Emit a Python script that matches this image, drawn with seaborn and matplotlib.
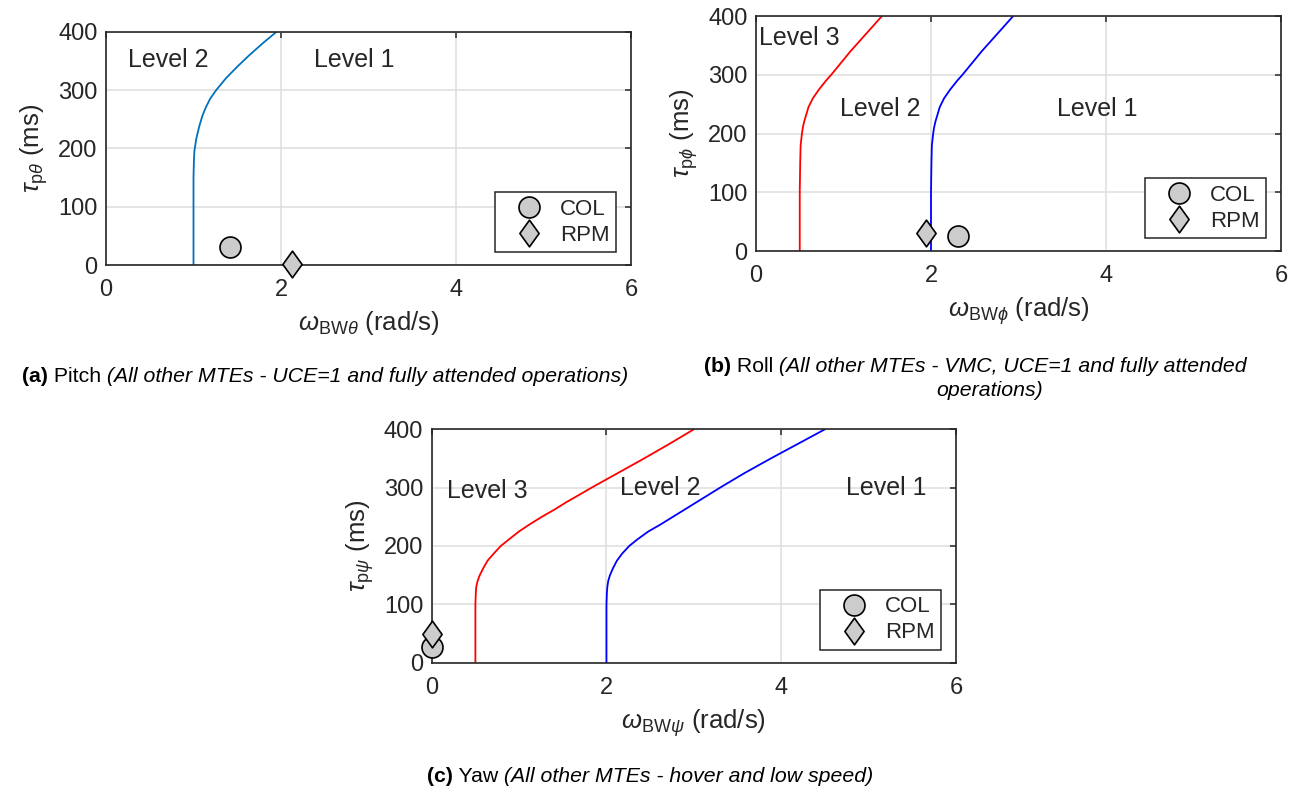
import matplotlib
matplotlib.use("Agg")
import matplotlib.pyplot as plt
from matplotlib.path import Path
import seaborn as sns

# ---------------------------------------------------------------- data
# Pitch: Level 1 / Level 2 boundary
pitch_tau = [0, 100, 150, 180, 195, 205, 215, 225, 240, 255, 270, 285, 300,
             320, 340, 360, 380, 400]
pitch_l12_omega = [1.0, 1.0, 1.0, 1.005, 1.01, 1.02, 1.03, 1.045, 1.07, 1.10, 1.14,
                   1.19, 1.26, 1.37, 1.50, 1.64, 1.79, 1.95]

# Roll: Level 2 / Level 3 (red) and Level 1 / Level 2 (blue) boundaries
roll_tau = [0, 100, 150, 180, 200, 210, 220, 230, 245, 260, 275, 290, 300,
            320, 340, 360, 380, 400]
roll_l23_omega = [0.5, 0.5, 0.505, 0.51, 0.525, 0.535, 0.55, 0.57, 0.60, 0.65, 0.72,
                  0.80, 0.86, 0.97, 1.08, 1.20, 1.32, 1.44]
roll_l12_omega = [2.0, 2.0, 2.005, 2.01, 2.025, 2.035, 2.05, 2.07, 2.10, 2.15, 2.22,
                  2.30, 2.36, 2.47, 2.58, 2.70, 2.82, 2.94]

# Yaw: Level 2 / Level 3 (red) and Level 1 / Level 2 (blue) boundaries
yaw_tau = [0, 100, 120, 130, 140, 150, 162, 175, 187, 200, 212, 225, 237, 250,
           262, 275, 287, 300, 325, 350, 375, 400]
yaw_l23_omega = [0.5, 0.5, 0.505, 0.51, 0.525, 0.55, 0.59, 0.64, 0.71, 0.79, 0.89,
                 1.0, 1.12, 1.26, 1.40, 1.54, 1.68, 1.83, 2.13, 2.43, 2.72, 3.0]
yaw_l12_omega = [2.0, 2.0, 2.005, 2.01, 2.02, 2.04, 2.075, 2.12, 2.18, 2.26, 2.36,
                 2.48, 2.62, 2.76, 2.89, 3.03, 3.16, 3.30, 3.58, 3.88, 4.19, 4.5]

# Measured bandwidth / phase delay for the two controllers
pitch_col = (1.42, 31)
pitch_rpm = (2.13, 2)
roll_col = (2.31, 26)
roll_rpm = (1.94, 30)
yaw_col = (0.0, 27)
yaw_rpm = (0.0, 50)

x_ticks = [0, 2, 4, 6]
y_ticks = [0, 100, 200, 300, 400]

# ---------------------------------------------------------------- style
sns.set_theme(style="white")
plt.rcParams["font.family"] = ["Liberation Sans", "DejaVu Sans"]
plt.rcParams.update({
    "mathtext.fontset": "custom",
    "mathtext.rm": "Liberation Sans",
    "mathtext.it": "Liberation Sans:italic",
    "mathtext.bf": "Liberation Sans:bold",
    "axes.edgecolor": "#262626",
    "axes.linewidth": 1.2,
    "xtick.color": "#262626",
    "ytick.color": "#262626",
    "xtick.labelcolor": "#262626",
    "ytick.labelcolor": "#262626",
    "text.color": "#262626",
    "axes.labelcolor": "#262626",
})

W, H = 1300, 793
fig = plt.figure(figsize=(W / 100, H / 100), dpi=100)

def px_axes(left, top, right, bottom):
    return fig.add_axes([left / W, 1 - bottom / H, (right - left) / W, (bottom - top) / H])

ax_a = px_axes(106, 31.7, 631, 265)
ax_b = px_axes(756, 16, 1281, 251)
ax_c = px_axes(431.7, 429.3, 956, 662.7)

# diamond a bit wider than matplotlib's thin diamond
diamond = Path([(0, 1), (0.72, 0), (0, -1), (-0.72, 0), (0, 1)],
               [Path.MOVETO, Path.LINETO, Path.LINETO, Path.LINETO, Path.CLOSEPOLY])

GREY = "#cccccc"
TICK_FS = 17
LABEL_FS = 18.5
LEVEL_FS = 18
LEG_FS = 16


def style_axes(ax, ylabel, xlabel):
    ax.set_xlim(0, 6)
    ax.set_ylim(0, 400)
    ax.set_xticks(x_ticks)
    ax.set_yticks(y_ticks)
    ax.grid(True, color="#dedede", linewidth=1.1)
    ax.set_axisbelow(True)
    ax.tick_params(direction="in", length=4, width=1.1, top=True, right=True,
                   labelsize=TICK_FS)
    ax.tick_params(axis="x", pad=10)
    ax.tick_params(axis="y", pad=6)
    for s in ax.spines.values():
        s.set_visible(True)
        s.set_zorder(5)
    ax.set_ylabel(ylabel, fontsize=LABEL_FS, labelpad=6)
    ax.set_xlabel(xlabel, fontsize=LABEL_FS, labelpad=6)


def boundary(ax, omega, tau, color, lw):
    sns.lineplot(x=omega, y=tau, ax=ax, color=color, linewidth=lw,
                 estimator=None, sort=False, legend=False)


def points(ax, col, rpm):
    sns.scatterplot(x=[col[0]], y=[col[1]], ax=ax, marker="o", s=228, color=GREY,
                    edgecolor="black", linewidth=1.2, label="COL", clip_on=False, zorder=10)
    sns.scatterplot(x=[rpm[0]], y=[rpm[1]], ax=ax, marker=diamond, s=370, color=GREY,
                    edgecolor="black", linewidth=1.2, label="RPM", clip_on=False, zorder=11)
    ax.legend(loc="lower right", bbox_to_anchor=(0.972, 0.055), borderaxespad=0,
              fontsize=LEG_FS, frameon=True, fancybox=False, edgecolor="#262626",
              framealpha=1, borderpad=0.29, handlelength=2.5, handletextpad=0.16,
              labelspacing=0.23, scatteryoffsets=[0.5])
    ax.get_legend().get_frame().set_linewidth(1.1)
    ax.get_legend().set_zorder(20)


# (a) pitch
boundary(ax_a, pitch_l12_omega, pitch_tau, "#0072BD", 1.3)
points(ax_a, pitch_col, pitch_rpm)
ax_a.text(0.25, 352, "Level 2", fontsize=LEVEL_FS, va="center", ha="left")
ax_a.text(2.38, 352, "Level 1", fontsize=LEVEL_FS, va="center", ha="left")
style_axes(ax_a, r"$\tau_{\mathrm{p}\theta}$ (ms)", r"$\omega_{\mathrm{BW}\theta}$ (rad/s)")

# (b) roll
boundary(ax_b, roll_l23_omega, roll_tau, "#ff0000", 1.3)
boundary(ax_b, roll_l12_omega, roll_tau, "#0000ff", 1.3)
points(ax_b, roll_col, roll_rpm)
ax_b.text(0.03, 363, "Level 3", fontsize=LEVEL_FS, va="center", ha="left")
ax_b.text(0.96, 242, "Level 2", fontsize=LEVEL_FS, va="center", ha="left")
ax_b.text(3.44, 242, "Level 1", fontsize=LEVEL_FS, va="center", ha="left")
style_axes(ax_b, r"$\tau_{\mathrm{p}\phi}$ (ms)", r"$\omega_{\mathrm{BW}\phi}$ (rad/s)")

# (c) yaw
boundary(ax_c, yaw_l23_omega, yaw_tau, "#ff0000", 1.3)
boundary(ax_c, yaw_l12_omega, yaw_tau, "#0000ff", 1.3)
points(ax_c, yaw_col, yaw_rpm)
ax_c.text(0.17, 294, "Level 3", fontsize=LEVEL_FS, va="center", ha="left")
ax_c.text(2.15, 300, "Level 2", fontsize=LEVEL_FS, va="center", ha="left")
ax_c.text(4.74, 300, "Level 1", fontsize=LEVEL_FS, va="center", ha="left")
style_axes(ax_c, r"$\tau_{\mathrm{p}\psi}$ (ms)", r"$\omega_{\mathrm{BW}\psi}$ (rad/s)")

# ---------------------------------------------------------------- sub-captions
CAP_FS = 15.3


def caption(cx, cy, pieces):
    texts = [fig.text(0, 1 - cy / H, s, fontsize=CAP_FS, va="center", ha="left",
                      color="black", **kw) for s, kw in pieces]
    fig.canvas.draw()
    r = fig.canvas.get_renderer()
    widths = [t.get_window_extent(r).width for t in texts]
    x = cx - sum(widths) / 2
    for t, w in zip(texts, widths):
        t.set_x(x / W)
        x += w


BOLD = {"fontweight": "bold"}
NORM = {}
ITAL = {"fontstyle": "italic"}

caption(325, 377, [("(a)", BOLD), (" Pitch", NORM),
                   (" (All other MTEs - UCE=1 and fully attended operations)", ITAL)])
caption(975, 366, [("(b)", BOLD), (" Roll", NORM),
                   (" (All other MTEs - VMC, UCE=1 and fully attended", ITAL)])
caption(990, 391, [("operations)", ITAL)])
caption(650, 777, [("(c)", BOLD), (" Yaw", NORM),
                   (" (All other MTEs - hover and low speed)", ITAL)])

fig.savefig("out.png", dpi=100)
